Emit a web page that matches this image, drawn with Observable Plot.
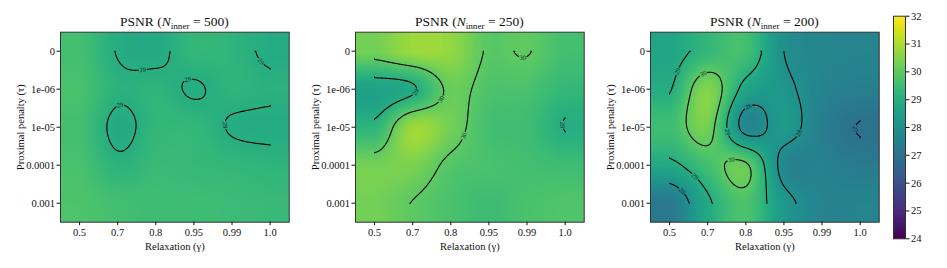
<!DOCTYPE html>
<html><head><meta charset="utf-8">
<script src="https://cdn.jsdelivr.net/npm/d3@7"></script>
<script src="https://cdn.jsdelivr.net/npm/@observablehq/plot@0.6"></script>
<style>
body{margin:0;background:#fff}
#root{position:relative;width:947px;height:268px;font-family:"Liberation Serif",serif;color:#111}
.panel{position:absolute;top:0}
.title{position:absolute;top:14px;font-size:13.5px;line-height:16px;white-space:nowrap;transform:translateX(-50%)}
.title sub{font-size:0.68em;vertical-align:-0.3em;line-height:0}
</style></head><body><div id="root"></div>
<script>
// Axis categories
const relaxation = ["0.5", "0.7", "0.8", "0.95", "0.99", "1.0"];
const penalty = ["0", "1e-06", "1e-05", "0.0001", "0.001"];
const innerIterations = [500, 250, 200];
const colorTicks = [24, 25, 26, 27, 28, 29, 30, 31, 32];
const levels = [24, 25, 26, 27, 28, 29, 30, 31, 32];

// PSNR grids: rows = proximal penalty, columns = relaxation
const psnr500 = [
  [29.6, 28.97, 28.85, 29.3, 29.2, 28.9],
  [29.7, 29.12, 29.2, 28.95, 29.2, 29.1],
  [29.6, 28.85, 29.27, 29.3, 28.95, 28.88],
  [29.7, 29.15, 29.4, 29.35, 29.3, 29.2],
  [29.75, 29.6, 29.5, 29.5, 29.45, 29.4]
];
const psnr250 = [
  [30.3, 30.8, 30.7, 29.93, 30.03, 29.6],
  [28.6, 28.9, 30.15, 29.75, 29.7, 29.3],
  [29.2, 30.8, 30.3, 29.6, 29.5, 28.98],
  [30.3, 30.4, 29.85, 29.7, 29.6, 29.5],
  [30.3, 29.98, 29.7, 29.5, 29.7, 29.8]
];
const psnr200 = [
  [28.7, 29.3, 29.6, 28.0, 27.7, 27.6],
  [28.95, 30.5, 28.7, 28.2, 27.6, 27.4],
  [29.5, 30.3, 27.7, 28.35, 27.4, 26.97],
  [28.8, 29.6, 30.1, 27.7, 27.5, 27.3],
  [27.2, 28.85, 29.7, 28.3, 27.6, 27.6]
];
const grids = [psnr500, psnr250, psnr200];

const clamp = (v, a, b) => Math.max(a, Math.min(b, v));
function cubic(p0, p1, p2, p3, t) {
  return p1 + 0.5 * t * (p2 - p0 + t * (2 * p0 - 5 * p1 + 4 * p2 - p3 + t * (3 * (p1 - p2) + p3 - p0)));
}
function interp(grid, x, y) {
  const ny = grid.length, nx = grid[0].length;
  x = clamp(x, 0, nx - 1); y = clamp(y, 0, ny - 1);
  const ix = Math.min(Math.floor(x), nx - 2), iy = Math.min(Math.floor(y), ny - 2);
  const tx = x - ix, ty = y - iy;
  const g = (r, c) => grid[clamp(r, 0, ny - 1)][clamp(c, 0, nx - 1)];
  const rows = [-1, 0, 1, 2].map(d => cubic(g(iy + d, ix - 1), g(iy + d, ix), g(iy + d, ix + 1), g(iy + d, ix + 2), tx));
  return cubic(rows[0], rows[1], rows[2], rows[3], ty);
}

const NX = 201, NY = 161;
function ringToLines(ring) {
  const n = ring.length - 1;
  const onB = (p, q) => (p[0] === 0 && q[0] === 0) || (p[0] === NX && q[0] === NX) || (p[1] === 0 && q[1] === 0) || (p[1] === NY && q[1] === NY);
  const isB = i => onB(ring[i], ring[(i + 1) % n]);
  let start = -1;
  for (let i = 0; i < n; i++) if (isB(i)) { start = i; break; }
  if (start < 0) return [ring.slice()];
  const lines = []; let cur = null;
  for (let k = 1; k <= n; k++) {
    const i = (start + k) % n;
    if (isB(i)) { if (cur && cur.length > 1) lines.push(cur); cur = null; }
    else { if (!cur) cur = [ring[i]]; cur.push(ring[(i + 1) % n]); }
  }
  if (cur && cur.length > 1) lines.push(cur);
  return lines;
}
function isolines(grid) {
  const nc = grid[0].length - 1, nr = grid.length - 1;
  const vals = new Float64Array(NX * NY);
  for (let j = 0; j < NY; j++) for (let i = 0; i < NX; i++) vals[j * NX + i] = interp(grid, i * nc / (NX - 1), j * nr / (NY - 1));
  const cs = d3.contours().size([NX, NY]).thresholds(levels)(vals);
  const out = [];
  for (const c of cs) for (const poly of c.coordinates) for (const ring of poly)
    for (const l of ringToLines(ring))
      out.push({level: c.value, pts: l.map(([cx, cy]) => [clamp(cx - 0.5, 0, NX - 1) * nc / (NX - 1), clamp(cy - 0.5, 0, NY - 1) * nr / (NY - 1)])});
  return out;
}

const PW = 228.7, PH = 190;
const SX = PW / 6, SY = PH / 5;
function labelAndSplit(lines) {
  const segs = [], labels = []; let id = 0;
  const gap = 4.5;
  for (const {level, pts} of lines) {
    const s = [0];
    for (let k = 1; k < pts.length; k++) s.push(s[k - 1] + Math.hypot((pts[k][0] - pts[k - 1][0]) * SX, (pts[k][1] - pts[k - 1][1]) * SY));
    const L = s[s.length - 1];
    if (L < 1.5) continue;
    const at = d => {
      d = clamp(d, 0, L);
      let k = 1; while (k < pts.length - 1 && s[k] < d) k++;
      const t = (d - s[k - 1]) / ((s[k] - s[k - 1]) || 1);
      return [pts[k - 1][0] + t * (pts[k][0] - pts[k - 1][0]), pts[k - 1][1] + t * (pts[k][1] - pts[k - 1][1])];
    };
    const mid = L / 2;
    const c = at(mid), a = at(mid - 4), b = at(mid + 4);
    let ang = Math.atan2((b[1] - a[1]) * SY, (b[0] - a[0]) * SX) * 180 / Math.PI;
    if (ang > 90) ang -= 180; if (ang < -90) ang += 180;
    labels.push({x: c[0], y: c[1], text: String(level), angle: ang});
    const p1 = [], p2 = [];
    for (let k = 0; k < pts.length; k++) if (s[k] < mid - gap) p1.push(pts[k]);
    if (p1.length) p1.push(at(mid - gap));
    if (mid + gap < L) p2.push(at(mid + gap));
    for (let k = 0; k < pts.length; k++) if (s[k] > mid + gap) p2.push(pts[k]);
    for (const p of [p1, p2]) if (p.length > 1) { id++; for (const q of p) segs.push({x: q[0], y: q[1], id}); }
  }
  return {segs, labels};
}

const colorOpts = {type: "linear", scheme: "viridis", domain: [24, 32]};
const root = document.getElementById("root");
const lefts = [0, 295, 590];

grids.forEach((grid, gi) => {
  const {segs, labels} = labelAndSplit(isolines(grid));
  const svg = Plot.plot({
    width: 290, height: 268,
    marginLeft: 60, marginRight: 290 - 60 - PW, marginTop: 31.7, marginBottom: 268 - 31.7 - PH,
    style: {fontFamily: "'Liberation Serif', serif", fontSize: "10.5px", background: "transparent", overflow: "visible", color: "#111"},
    x: {domain: [-0.5, 5.5]},
    y: {domain: [-0.5, 4.5], reverse: true},
    color: colorOpts,
    marks: [
      Plot.raster({fill: (x, y) => interp(grid, x, y), x1: -0.5, x2: 5.5, y1: -0.5, y2: 4.5, pixelSize: 1}),
      Plot.line(segs, {x: "x", y: "y", z: "id", stroke: "black", strokeWidth: 1.1}),
      Plot.text(labels, {x: "x", y: "y", text: "text", rotate: "angle", fontSize: 6.5, fill: "#1a1a1a"}),
      Plot.frame({stroke: "#333", strokeWidth: 1}),
      Plot.axisX({ticks: d3.range(relaxation.length), tickFormat: i => relaxation[i], tickSize: 3.5, tickPadding: 3, label: "Relaxation (γ)", labelAnchor: "center", labelArrow: "none", labelOffset: 28, fontSize: 10.5}),
      Plot.axisY({ticks: d3.range(penalty.length), tickFormat: i => penalty[i], tickSize: 3.5, tickPadding: 2, label: "Proximal penalty (τ)", labelAnchor: "center", labelArrow: "none", labelOffset: 44, fontSize: 10.5})
    ]
  });
  const wrap = document.createElement("div");
  wrap.className = "panel";
  wrap.style.left = lefts[gi] + "px";
  wrap.appendChild(svg);
  root.appendChild(wrap);
  const t = document.createElement("div");
  t.className = "title";
  t.style.left = (lefts[gi] + 60 + PW / 2) + "px";
  t.innerHTML = `PSNR (<i>N</i><sub>inner</sub> = ${innerIterations[gi]})`;
  root.appendChild(t);
});

const cb = Plot.plot({
  width: 67, height: 268, marginLeft: 13, marginRight: 42, marginTop: 15.7, marginBottom: 29.7,
  style: {fontFamily: "'Liberation Serif', serif", fontSize: "10.5px", background: "transparent", overflow: "visible"},
  x: {domain: [0, 1], axis: null},
  y: {domain: [24, 32]},
  color: colorOpts,
  marks: [
    Plot.raster({fill: (x, y) => y, x1: 0, x2: 1, y1: 24, y2: 32, pixelSize: 1}),
    Plot.frame({stroke: "#333", strokeWidth: 1}),
    Plot.axisY({anchor: "right", ticks: colorTicks, tickFormat: d => String(d), tickSize: 3.5, tickPadding: 2, label: null, fontSize: 10.5})
  ]
});
const cw = document.createElement("div");
cw.className = "panel";
cw.style.left = "880px";
cw.appendChild(cb);
root.appendChild(cw);
</script>
</body></html>
